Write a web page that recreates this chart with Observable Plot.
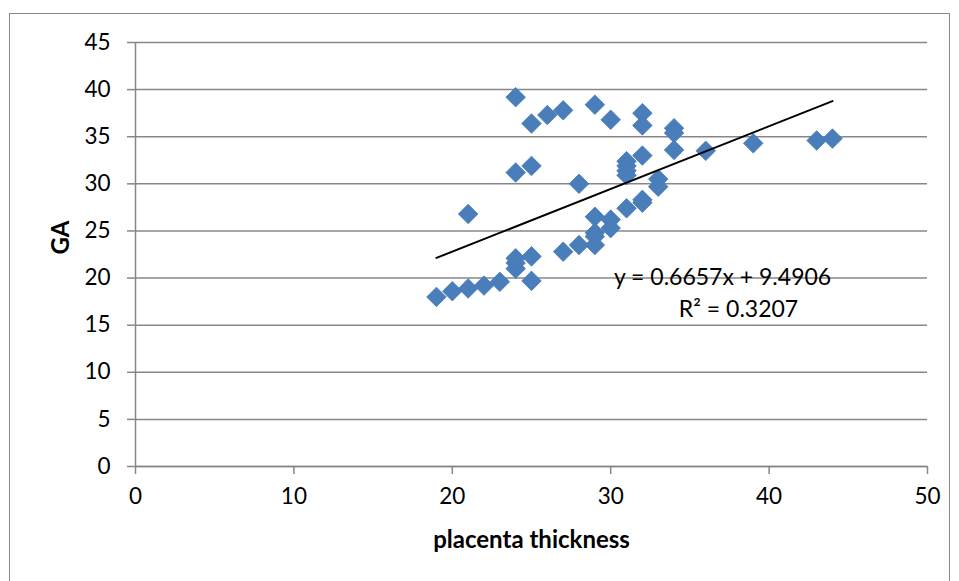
<!DOCTYPE html>
<html>
<head>
<meta charset="utf-8">
<script src="https://cdn.jsdelivr.net/npm/d3@7"></script>
<script src="https://cdn.jsdelivr.net/npm/@observablehq/plot@0.6"></script>
<style>
  html, body { margin: 0; padding: 0; background: #fff; }
  #wrap { position: relative; width: 959px; height: 581px; overflow: hidden; }
  #border { position: absolute; left: 9px; top: 13px; width: 941px; height: 600px; border: 1.5px solid #888; box-sizing: border-box; }
  #chart { position: absolute; left: 0; top: 0; }
</style>
</head>
<body>
<div id="wrap"><div id="border"></div><div id="chart"></div></div>
<script>
// placenta thickness (x) and GA (y)
const thickness = [19,20,21,22,23,24,24,24,25,25,21,24,25,24,25,26,27,29,30,32,32,34,34,34,36,39,43,44,32,31,31,31,31,28,33,33,32,32,31,30,30,29,29,29,29,28,27];
const ga = [18.0,18.6,18.9,19.2,19.6,21.0,21.6,22.1,22.3,19.7,26.8,31.2,31.9,39.2,36.4,37.3,37.8,38.4,36.8,37.5,36.2,35.9,35.4,33.6,33.5,34.3,34.6,34.8,33.0,32.4,31.9,31.4,30.9,30.0,30.5,29.7,28.3,28.0,27.4,26.2,25.3,26.5,24.8,24.4,23.5,23.5,22.8];
const slope = 0.6657, intercept = 9.4906, r2 = 0.3207;
const xTicks = [0,10,20,30,40,50];
const yTicks = [0,5,10,15,20,25,30,35,40,45];

const points = thickness.map((x, i) => ({x, y: ga[i]}));
const xmin = d3.min(thickness), xmax = d3.max(thickness);
const trend = [xmin, xmax].map(x => ({x, y: slope * x + intercept}));

const font = "Lato, 'Liberation Sans', sans-serif";
const grid = "#878787";

const chart = Plot.plot({
  width: 959,
  height: 581,
  marginLeft: 135,
  marginRight: 32,
  marginTop: 42,
  marginBottom: 115,
  style: {fontFamily: font, fontSize: "22px", color: "#000", background: "transparent"},
  x: {domain: [0, 50]},
  y: {domain: [0, 45]},
  marks: [
    Plot.gridY(yTicks, {stroke: grid, strokeOpacity: 1, strokeWidth: 1.5}),
    Plot.axisY(yTicks, {tickSize: 8, tickPadding: 17, stroke: grid, strokeWidth: 1.5, label: null, fontSize: 22.5}),
    Plot.axisX(xTicks, {tickSize: 8, tickPadding: 14, stroke: grid, strokeWidth: 1.5, label: null, fontSize: 22.5}),
    Plot.ruleX([0], {stroke: grid, strokeWidth: 1.5}),
    Plot.ruleY([0], {stroke: grid, strokeWidth: 1.5}),
    Plot.dot(points, {x: "x", y: "y", symbol: "diamond2", r: 8.8, fill: "#4a7ebb", stroke: "#4578b5", strokeWidth: 0.8}),
    Plot.line(trend, {x: "x", y: "y", stroke: "#000", strokeWidth: 2}),
    Plot.text([`y = ${slope}x + ${intercept}`], {x: 37.06, y: 20.0, fontSize: 23, fill: "#000"}),
    Plot.text([`R² = ${r2}`], {x: 38.07, y: 16.6, fontSize: 23, fill: "#000"}),
    Plot.text(["GA"], {frameAnchor: "left", dx: -74, rotate: -90, fontWeight: "bold", fontSize: 24, fill: "#000"}),
    Plot.text(["placenta thickness"], {frameAnchor: "bottom", dy: 81, fontWeight: "bold", fontSize: 24, fill: "#000"})
  ]
});
document.getElementById("chart").appendChild(chart);
</script>
</body>
</html>
